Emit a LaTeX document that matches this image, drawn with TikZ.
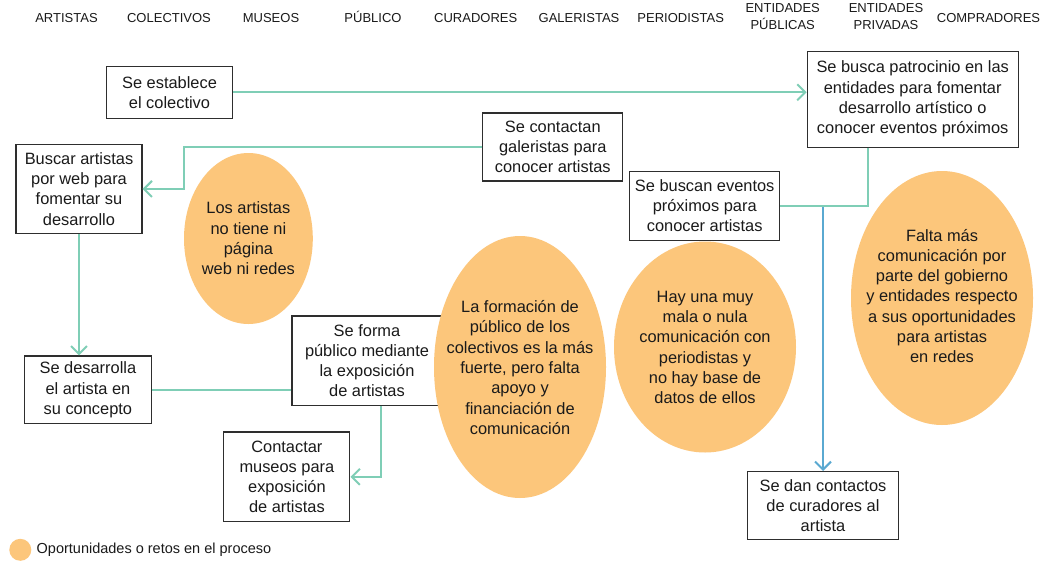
\documentclass[tikz,border=0pt]{standalone}
\usepackage{fontspec}
\setmainfont{Liberation Sans}
\usetikzlibrary{shapes.geometric,arrows.meta}
\definecolor{blobc}{HTML}{FCC67B}
\definecolor{greenc}{HTML}{7FCEB6}
\definecolor{bluec}{HTML}{5AA9D1}
\definecolor{boxc}{HTML}{2E2E2E}
\definecolor{txtc}{HTML}{1A1A1A}
\begin{document}
\begin{tikzpicture}[x=1pt,y=-1pt,
  box/.style={draw=boxc, line width=1.1pt, fill=white, inner sep=0pt, align=center, text=txtc,
    font=\fontsize{16.4}{20.3}\selectfont},
  blob/.style={fill=blobc},
  blobtext/.style={inner sep=0pt, align=center, text=txtc,
    font=\fontsize{16.4}{20.3}\selectfont},
  hdr/.style={align=center, inner sep=0pt, text=txtc, font=\fontsize{13}{17}\selectfont},
  hdrb/.style={hdr, anchor=base},
  gline/.style={draw=greenc, line width=2pt},
  bline/.style={draw=bluec, line width=2pt},
  arr/.style={-{Straight Barb[length=8pt,width=16pt]}}
]
\useasboundingbox (0,0) rectangle (1063,568);
\fill[white] (0,0) rectangle (1063,568);

% headers
\node[hdrb] (h1) at (66.5,22) {ARTISTAS};
\node[hdrb] (h2) at (169,22) {COLECTIVOS};
\node[hdrb] (h3) at (271,22) {MUSEOS};
\node[hdrb] (h4) at (373,22) {PÚBLICO};
\node[hdrb] (h5) at (475.7,22) {CURADORES};
\node[hdrb] (h6) at (579,22) {GALERISTAS};
\node[hdrb] (h7) at (680.7,22) {PERIODISTAS};
\node[hdr] (h8) at (782.7,17) {ENTIDADES\\PÚBLICAS};
\node[hdr] (h9) at (886,17) {ENTIDADES\\PRIVADAS};
\node[hdrb] (h10) at (988.5,22) {COMPRADORES};

% boxes
\node[box, minimum width=126pt, minimum height=52pt] (est) at (169.5,92.3) {Se establece\\el colectivo};
\node[box, minimum width=211pt, minimum height=96pt] (busca) at (912.7,99.1) {Se busca patrocinio en las\\entidades para fomentar\\desarrollo artístico o\\conocer eventos próximos};
\node[box, minimum width=140pt, minimum height=68pt] (cont) at (552.8,147) {Se contactan\\galeristas para\\conocer artistas};
\node[box, minimum width=126pt, minimum height=89pt] (buscar) at (79,188.9) {Buscar artistas\\por web para\\fomentar su\\desarrollo};
\node[box, minimum width=150pt, minimum height=69pt] (eventos) at (704.7,205.7) {Se buscan eventos\\próximos para\\conocer artistas};
\node[box, minimum width=126.4pt, minimum height=67.6pt] (desarr) at (87.9,389.8) {Se desarrolla\\el artista en\\su concepto};
\node[box, minimum width=150pt, minimum height=89.3pt] (forma) at (367,360.6) {Se forma\\público mediante\\la exposición\\de artistas};
\node[box, minimum width=126pt, minimum height=89.6pt] (contactar) at (286.9,476.8) {Contactar\\museos para\\exposición\\de artistas};
\node[box, minimum width=151pt, minimum height=68.3pt] (dan) at (823,505.7) {Se dan contactos\\de curadores al\\artista};

% blobs
\fill[blob] (248.4,238.5) ellipse [x radius=64.4, y radius=85.5];
\node[blobtext] (e1) at (248.4,238.5) {Los artistas\\no tiene ni\\página\\web ni redes};
\fill[blob] (520,367) ellipse [x radius=86, y radius=131];
\node[blobtext] (e2) at (520,367.5) {La formación de\\público de los\\colectivos es la más\\fuerte, pero falta\\apoyo y\\financiación de\\comunicación};
\fill[blob] (705,347) ellipse [x radius=91, y radius=105.5];
\node[blobtext] (e3) at (705,347.5) {Hay una muy\\mala o nula\\comunicación con\\periodistas y\\no hay base de\\datos de ellos};
\fill[blob] (942,298) ellipse [x radius=91, y radius=127];
\node[blobtext] (e4) at (942,296) {Falta más\\comunicación por\\parte del gobierno\\y entidades respecto\\a sus oportunidades\\para artistas\\en redes};

% helper coordinates
\coordinate (k1) at (184,0);
\coordinate (k2) at (381,0);
\coordinate (k3) at (868,0);

% connectors
\draw[bline, arr] (dan.north |- eventos.east) -- (dan.north);
\draw[gline, arr] (est.east) -- (est.east -| busca.west);
\draw[gline, arr] (cont.west) -| (k1 |- buscar.east) -- (buscar.east);
\draw[gline, arr] (buscar.south) -- (buscar.south |- desarr.north);
\draw[gline] (desarr.east) -- (desarr.east -| forma.west);
\draw[gline, arr] (k2 |- forma.south) |- (contactar.east);
\draw[gline] (k3 |- busca.south) |- (eventos.east);

% legend
\fill[blobc] (20.3,549.8) circle [radius=11];
\node[anchor=west, inner sep=0pt, text=txtc, font=\fontsize{14.5}{16}\selectfont] (legt) at (36.5,549.8) {Oportunidades o retos en el proceso};
\end{tikzpicture}
\end{document}
